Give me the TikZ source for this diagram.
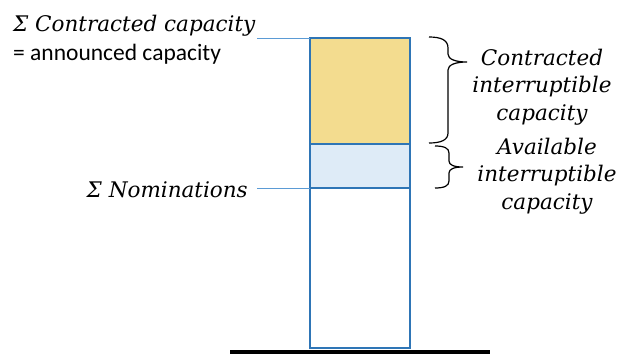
\documentclass[tikz,border=0pt]{standalone}
\usepackage{fontspec}
\newfontfamily\varfont{DejaVu Serif}
\newfontfamily\calibrifont{Carlito}

\definecolor{barblue}{HTML}{2E75B6}
\definecolor{leadblue}{HTML}{5B9BD5}
\definecolor{contryellow}{HTML}{F3DC8F}
\definecolor{availblue}{HTML}{DEEBF7}

\begin{document}
\begin{tikzpicture}[x=1pt, y=-1pt,
  font=\fontsize{21.5}{27.5}\selectfont\varfont\itshape,
  seg/.style={draw=barblue, line width=2pt},
  lead/.style={draw=leadblue, line width=0.9pt},
  curly/.style={draw=black, line width=1.2pt},
  lbl/.style={inner sep=0pt}]

  \useasboundingbox (0,0) rectangle (623,354);

  % Corners of the bar
  \coordinate (bartop) at (310,38);
  \coordinate (barmid) at (410,144);
  \coordinate (barnom) at (310,188);
  \coordinate (barbot) at (410,348);

  % Bar segments
  \draw[seg, fill=contryellow] (bartop) rectangle (barmid);
  \draw[seg, fill=availblue] (bartop |- barmid) rectangle (barmid |- barnom);
  \draw[seg, fill=white] (barnom) rectangle (barbot);

  % Ground line
  \fill[black] (230,349.5) rectangle (490,354);

  % Left labels
  \node[lbl, anchor=base west] (contr) at (13,31) {Σ Contracted capacity};
  \node[lbl, anchor=base west, font=\fontsize{23.5}{26}\selectfont\calibrifont] (announced) at (13,60) {= announced capacity};
  \node[lbl, anchor=base east] (nomin) at (248,197) {Σ Nominations};

  % Leaders to the bar
  \coordinate (contrlead) at (257,38);
  \coordinate (nominlead) at (257,188);
  \draw[lead] (contrlead) -- (bartop);
  \draw[lead] (nominlead) -- (barnom);

  % Braces
  \draw[curly] (429,37) .. controls (441,37) and (448,40) .. (448,48) -- (448,54)
    .. controls (448,59) and (455,62) .. (467,62)
    .. controls (455,62) and (448,65) .. (448,70) -- (448,133)
    .. controls (448,140) and (441,143) .. (429,143);
  \draw[curly] (435,146) .. controls (444,146) and (449,148) .. (449,153) -- (449,161)
    .. controls (449,165) and (454,167) .. (463,167)
    .. controls (454,167) and (449,169) .. (449,173) -- (449,181)
    .. controls (449,186) and (444,188) .. (435,188);

  % Right labels
  \node[lbl, align=center, anchor=base] (contrint) at (542,120) {Contracted\\interruptible\\capacity};
  \node[lbl, align=center, anchor=base] (availint) at (547,209) {Available\\interruptible\\capacity};

\end{tikzpicture}
\end{document}
